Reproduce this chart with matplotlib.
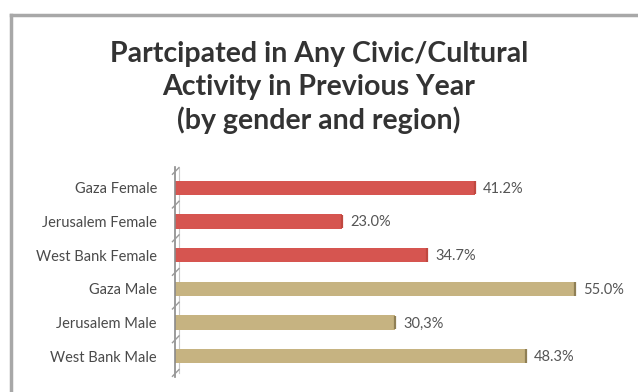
import matplotlib.pyplot as plt
from matplotlib.lines import Line2D

categories = ["Gaza Female", "Jerusalem Female", "West Bank Female",
              "Gaza Male", "Jerusalem Male", "West Bank Male"]
values = [41.2, 23.0, 34.7, 55.0, 30.3, 48.3]
labels = ["41.2%", "23.0%", "34.7%", "55.0%", "30,3%", "48.3%"]
colors = ["#d65550"] * 3 + ["#c6b381"] * 3
edges = ["#c04840"] * 3 + ["#8f7f55"] * 3

plt.rcParams['font.family'] = ['Lato', 'DejaVu Sans']

fig = plt.figure(figsize=(6.38, 3.92), dpi=100)
ax = fig.add_axes([0.2743, 0.0383, 0.684, 0.536])

y = list(range(len(categories)))
ax.barh(y, values, height=0.43, color=colors, zorder=2)
# darker right end on each bar
for yi, v, ec in zip(y, values, edges):
    ax.plot([v, v], [yi - 0.2, yi + 0.2], color=ec, lw=1.6, zorder=3,
            solid_capstyle='butt')

for yi, v, lab in zip(y, values, labels):
    ax.text(v + 1.1, yi + 0.03, lab, va='center', ha='left',
            fontsize=10.5, color='#555555')

ax.set_xlim(0, 60)
ax.set_ylim(5.62, -0.62)
ax.set_yticks(y)
ax.set_yticklabels(categories, fontsize=10.5, color='#4a4a4a')
ax.tick_params(axis='y', length=0, pad=13)
ax.set_xticks([])
for side in ['top', 'right', 'bottom']:
    ax.spines[side].set_visible(False)
ax.spines['left'].set_color('#8a8a8a')
ax.spines['left'].set_linewidth(1.2)

# slanted wall segments along the axis
for k in range(len(categories) + 1):
    yb = k - 0.5
    ax.plot([-0.35, 0.55], [yb + 0.1, yb - 0.1], color='#9a9a9a', lw=1.0,
            clip_on=False, zorder=4)
ax.plot([0.55, 0.55], [-0.6, 5.5], color='#c8c8c8', lw=0.8, zorder=1)

fig.text(0.5, 0.776, "Partcipated in Any Civic/Cultural\nActivity in Previous Year\n(by gender and region)",
         ha='center', va='center', fontsize=20.5, fontweight='bold',
         color='#333333', linespacing=1.3)

# outer frame, top and left only
fig.add_artist(Line2D([0.017, 1.0], [0.963, 0.963], color='#a8a8a8', lw=2.5,
                      transform=fig.transFigure))
fig.add_artist(Line2D([0.017, 0.017], [0.0, 0.963], color='#a8a8a8', lw=2.5,
                      transform=fig.transFigure))

fig.savefig("out.png", dpi=100)
